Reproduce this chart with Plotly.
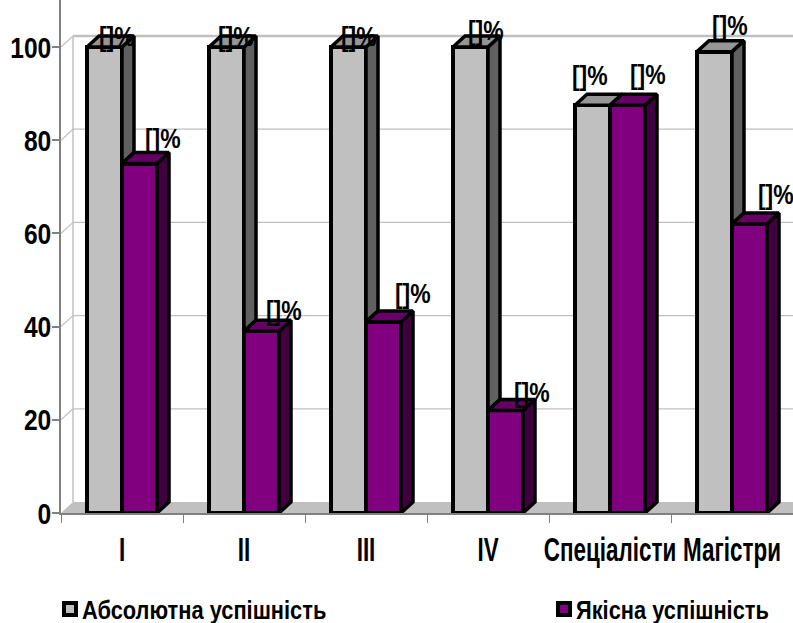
import plotly.graph_objects as go

categories = ["I", "II", "III", "IV", "Спеціалісти", "Магістри"]
absolute = [100, 100, 100, 100, 87.5, 99]
quality = [75, 39, 41, 22, 87.5, 62]
y_ticks = [0, 20, 40, 60, 80, 100]
series_names = ["Абсолютна успішність", "Якісна успішність"]
label_text = "[]%"

# label offsets from the bar's top centre, in pixels (style)
abs_shift = [(12, 11), (9, 11), (10, 11), (15, 17), (-3, 30), (15, 26)]
qual_shift = [(23, 25), (22, 21), (29, 28), (26, 18), (20, 31), (26, 30)]

FONT = "Liberation Sans"
W, H = 793, 623
L, B = 61, 110
PX_X = 122.0
PX_Y = 4.66
DX = 12 / PX_X
DY = 11 / PX_Y
BW = 35 / PX_X
centres = [i + 0.5 for i in range(len(categories))]
GRID = "#C0C0C0"
AXIS = "#808080"

fig = go.Figure()


def polys(pts_list):
    xs, ys = [], []
    for pts in pts_list:
        for x, y in pts + [pts[0]]:
            xs.append(x)
            ys.append(y)
        xs.append(None)
        ys.append(None)
    return xs, ys


fig.add_trace(go.Bar(x=centres, y=absolute, width=BW, offset=-BW, name=series_names[0],
                     legend="legend",
                     marker=dict(color="#C0C0C0", line=dict(color="black", width=4))))
fig.add_trace(go.Bar(x=centres, y=quality, width=BW, offset=0, name=series_names[1],
                     legend="legend2",
                     marker=dict(color="#800080", line=dict(color="black", width=4))))


def add_poly(pts, fill):
    xs, ys = polys(pts)
    fig.add_trace(go.Scatter(x=xs, y=ys, mode="lines", fill="toself", fillcolor=fill,
                             line=dict(color="black", width=3.5), showlegend=False,
                             hoverinfo="skip"))


# grey series: side hidden below the neighbouring purple bar's top
add_poly([[(c, min(v, q)), (c, v), (c + DX, v + DY), (c + DX, min(v, q) + DY)]
          for c, v, q in zip(centres, absolute, quality)], "#606060")
add_poly([[(c - BW, v), (c, v), (c + DX, v + DY), (c - BW + DX, v + DY)]
          for c, v in zip(centres, absolute)], "#969696")
add_poly([[(c + BW, 0), (c + BW, v), (c + BW + DX, v + DY), (c + BW + DX, DY)]
          for c, v in zip(centres, quality)], "#400040")
add_poly([[(c, v), (c + BW, v), (c + BW + DX, v + DY), (c + DX, v + DY)]
          for c, v in zip(centres, quality)], "#660066")

shapes = [dict(type="path", layer="below", line=dict(width=0), fillcolor=GRID,
               path=f"M 0 0 L 6 0 L 6 {DY} L {DX} {DY} Z")]
for t in y_ticks[1:]:
    w = 2.5 if t == 100 else 1.2
    shapes.append(dict(type="line", layer="below", x0=DX, x1=6, y0=t + DY, y1=t + DY,
                       line=dict(color=GRID, width=w)))
    shapes.append(dict(type="line", layer="below", x0=0, x1=DX, y0=t, y1=t + DY,
                       line=dict(color=GRID, width=1.2)))
shapes.append(dict(type="line", layer="below", x0=DX, x1=DX, y0=DY, y1=100 + DY,
                   line=dict(color=GRID, width=1.5)))

annotations = []
for vals, shifts, off in ((absolute, abs_shift, -BW / 2), (quality, qual_shift, BW / 2)):
    for c, v, (sx, sy) in zip(centres, vals, shifts):
        annotations.append(dict(x=c + off, y=v, text=label_text, showarrow=False,
                                xshift=sx, yshift=sy, xanchor="center", yanchor="middle",
                                font=dict(family=FONT, size=28, color="black", weight=700)))

LEG = dict(orientation="h", xanchor="left", yanchor="middle", itemwidth=30,
           entrywidthmode="pixels", bgcolor="rgba(0,0,0,0)",
           font=dict(family=FONT, size=26, color="black", weight=700))
PLOT_W, PLOT_H = W - L, H - B
LEG_Y = (PLOT_H - 597) / PLOT_H

fig.update_layout(
    width=W, height=H, margin=dict(l=L, r=0, t=0, b=B, pad=0),
    paper_bgcolor="white", plot_bgcolor="white", bargap=0, showlegend=True,
    font=dict(family=FONT, color="black"),
    shapes=shapes, annotations=annotations,
    xaxis=dict(range=[0, 6], tickmode="array", tickvals=centres, ticktext=categories,
               tickangle=0, automargin=False, ticklabeloverflow="allow",
               ticks="outside", ticklen=7, tickcolor="rgba(0,0,0,0)", showgrid=False,
               zeroline=False, showline=True, linecolor=AXIS, linewidth=1.5,
               tickfont=dict(family=FONT, size=33, color="black", weight=700),
               minor=dict(tickmode="linear", tick0=0, dtick=1, ticks="outside", ticklen=8,
                          tickcolor=AXIS, tickwidth=1, showgrid=False)),
    yaxis=dict(range=[0, 513 / PX_Y], tickmode="array", tickvals=y_ticks, showgrid=False,
               automargin=False, ticklabelstandoff=-5,
               zeroline=False, showline=True, linecolor=AXIS, linewidth=1.5, ticks="outside",
               ticklen=7, tickcolor=AXIS, tickwidth=1.5,
               tickfont=dict(family=FONT, size=30, color="black", weight=700)),
    legend=dict(LEG, x=(50 - L) / PLOT_W, y=LEG_Y, entrywidth=250),
    legend2=dict(LEG, x=(544 - L) / PLOT_W, y=LEG_Y, entrywidth=190),
)

# Arial Narrow is not installed: narrow the real text around its anchor.
POST = """
document.body.style.margin='0';
function narrow(sel,s,dx){
  document.querySelectorAll(sel).forEach(function(t){
    var x=parseFloat(t.getAttribute('x'))||0, cur=t.getAttribute('transform')||'';
    t.setAttribute('transform',cur+' translate('+(x+dx)+',0) scale('+s+',1) translate('+(-x)+',0)');
  });
}
narrow('.ytick text,.annotation-text',0.82,0);
narrow('.xtick text',0.68,0);
narrow('.legendtext,.legend2text',0.84,-8);
document.querySelectorAll('.legendbar').forEach(function(p){
  p.style.strokeWidth='4px';
  p.setAttribute('transform',(p.getAttribute('transform')||'')+' scale(1.2)');
});
document.querySelectorAll('.infolayer .legend,.infolayer .legend2').forEach(function(g){
  g.setAttribute('transform',(g.getAttribute('transform')||'')+' translate(0,12)');
});
"""
fig.write_html("out.html", post_script=POST, config=dict(displayModeBar=False))
